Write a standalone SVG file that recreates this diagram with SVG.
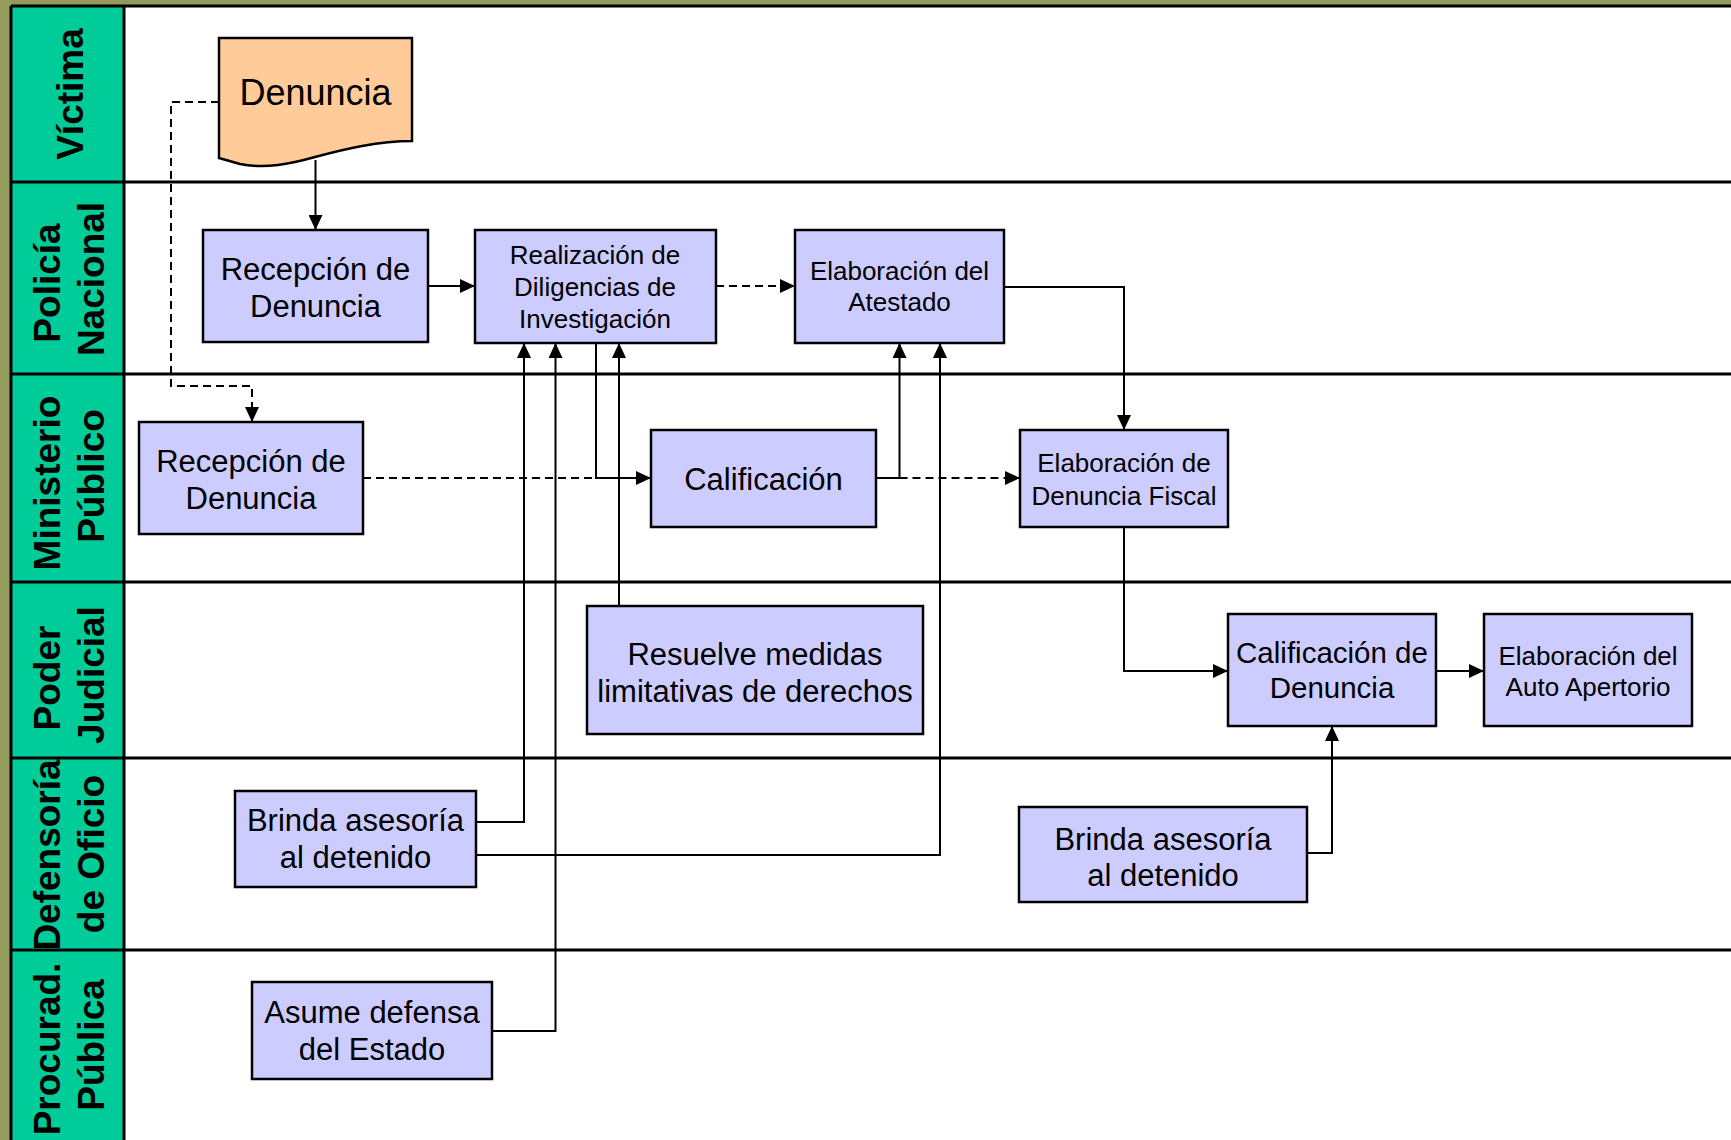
<svg xmlns="http://www.w3.org/2000/svg" width="1731" height="1140" viewBox="0 0 1731 1140">
<defs>
<marker id="arr" markerWidth="15" markerHeight="14" refX="15" refY="7" orient="auto" markerUnits="userSpaceOnUse">
<path d="M0,0 L15,7 L0,14 Z" fill="#000"/>
</marker>
<style>
.lane{font-family:"Liberation Sans",Arial,sans-serif;font-weight:bold;font-size:37px;fill:#000;text-anchor:middle}
.box{fill:#CCCCFF;stroke:#000;stroke-width:2.5}
.t{font-family:"Liberation Sans",Arial,sans-serif;fill:#000;text-anchor:middle}
.f31{font-size:31px}
.f26{font-size:26px}
.f29{font-size:29.5px}
.c{fill:none;stroke:#000;stroke-width:2}
.d{stroke-dasharray:8,5}
.sep{stroke:#000;stroke-width:3}
</style>
</defs>
<rect x="0" y="0" width="1731" height="1140" fill="#979A5D"/>
<g id="pool">
<rect x="11" y="6" width="1730" height="1150" fill="#fff"/>
<rect x="11" y="6" width="113" height="1150" fill="#00CC99"/>
<line class="sep" x1="11" y1="6" x2="1731" y2="6"/>
<line class="sep" x1="11" y1="6" x2="11" y2="1140"/>
<line class="sep" x1="124" y1="6" x2="124" y2="1140"/>
<line class="sep" x1="11" y1="182" x2="1731" y2="182"/>
<line class="sep" x1="11" y1="374" x2="1731" y2="374"/>
<line class="sep" x1="11" y1="582" x2="1731" y2="582"/>
<line class="sep" x1="11" y1="758" x2="1731" y2="758"/>
<line class="sep" x1="11" y1="950" x2="1731" y2="950"/>
</g>
<g id="lane-labels">
<text class="lane" transform="translate(83,94) rotate(-90)">Víctima</text>
<text class="lane" transform="translate(60,283) rotate(-90)">Policía</text>
<text class="lane" transform="translate(104,279) rotate(-90)">Nacional</text>
<text class="lane" transform="translate(60,483) rotate(-90)">Ministerio</text>
<text class="lane" transform="translate(104,476) rotate(-90)">Público</text>
<text class="lane" transform="translate(60,678) rotate(-90)">Poder</text>
<text class="lane" transform="translate(104,675) rotate(-90)">Judicial</text>
<text class="lane" transform="translate(60,855) rotate(-90)">Defensoría</text>
<text class="lane" transform="translate(104,854) rotate(-90)">de Oficio</text>
<text class="lane" transform="translate(60,1049) rotate(-90)">Procurad.</text>
<text class="lane" transform="translate(104,1045) rotate(-90)">Pública</text>
</g>
<g id="connectors">
<path class="c" d="M315.5,160 V230" marker-end="url(#arr)"/>
<path class="c d" d="M219,102 H171 V386 H252 V422" marker-end="url(#arr)"/>
<path class="c" d="M428,286 H475" marker-end="url(#arr)"/>
<path class="c d" d="M716,286 H795" marker-end="url(#arr)"/>
<path class="c" d="M1004,287 H1124 V430" marker-end="url(#arr)"/>
<path class="c d" d="M363,478 H596"/>
<path class="c" d="M596,343 V478 H651" marker-end="url(#arr)"/>
<path class="c" d="M876,478 H899.5 V343" marker-end="url(#arr)"/>
<path class="c d" d="M899.5,478 H1020" marker-end="url(#arr)"/>
<path class="c" d="M476,822 H524 V343" marker-end="url(#arr)"/>
<path class="c" d="M492,1031 H555.5 V343" marker-end="url(#arr)"/>
<path class="c" d="M619,606 V343" marker-end="url(#arr)"/>
<path class="c" d="M476,855 H940 V343" marker-end="url(#arr)"/>
<path class="c" d="M1124,527 V671 H1228" marker-end="url(#arr)"/>
<path class="c" d="M1436,671 H1484" marker-end="url(#arr)"/>
<path class="c" d="M1307,853 H1332 V726" marker-end="url(#arr)"/>
</g>
<g id="n-denuncia">
<path d="M219,38 H412 V141 C378,141 345,149 315,157 C290,164 266,169 240,164 L219,158 Z" fill="#FFCC99" stroke="#000" stroke-width="2.5"/>
<text class="t" x="315.5" y="105" font-size="36">Denuncia</text>
</g>
<g id="n-recepcion-pn">
<rect class="box" x="203" y="230" width="225" height="112"/>
<text class="t f31" x="315.5" y="280">Recepción de</text>
<text class="t f31" x="315.5" y="317">Denuncia</text>
</g>
<g id="n-realizacion">
<rect class="box" x="475" y="230" width="241" height="113"/>
<text class="t f26" x="595" y="264">Realización de</text>
<text class="t f26" x="595" y="296">Diligencias de</text>
<text class="t f26" x="595" y="328">Investigación</text>
</g>
<g id="n-atestado">
<rect class="box" x="795" y="230" width="209" height="113"/>
<text class="t f26" x="899.5" y="280">Elaboración del</text>
<text class="t f26" x="899.5" y="311">Atestado</text>
</g>
<g id="n-recepcion-mp">
<rect class="box" x="139" y="422" width="224" height="112"/>
<text class="t f31" x="251" y="472">Recepción de</text>
<text class="t f31" x="251" y="509">Denuncia</text>
</g>
<g id="n-calificacion">
<rect class="box" x="651" y="430" width="225" height="97"/>
<text class="t f31" x="763.5" y="490">Calificación</text>
</g>
<g id="n-denuncia-fiscal">
<rect class="box" x="1020" y="430" width="208" height="97"/>
<text class="t f26" x="1124" y="472">Elaboración de</text>
<text class="t f26" x="1124" y="505">Denuncia Fiscal</text>
</g>
<g id="n-resuelve">
<rect class="box" x="587" y="606" width="336" height="128"/>
<text class="t f31" x="755" y="665">Resuelve medidas</text>
<text class="t f31" x="755" y="702">limitativas de derechos</text>
</g>
<g id="n-calificacion-denuncia">
<rect class="box" x="1228" y="614" width="208" height="112"/>
<text class="t f29" x="1332" y="663">Calificación de</text>
<text class="t f29" x="1332" y="698">Denuncia</text>
</g>
<g id="n-auto-apertorio">
<rect class="box" x="1484" y="614" width="208" height="112"/>
<text class="t f26" x="1588" y="665">Elaboración del</text>
<text class="t f26" x="1588" y="696">Auto Apertorio</text>
</g>
<g id="n-brinda-1">
<rect class="box" x="235" y="791" width="241" height="96"/>
<text class="t f31" x="355.5" y="831">Brinda asesoría</text>
<text class="t f31" x="355.5" y="868">al detenido</text>
</g>
<g id="n-asume">
<rect class="box" x="252" y="982" width="240" height="97"/>
<text class="t f31" x="372" y="1023">Asume defensa</text>
<text class="t f31" x="372" y="1060">del Estado</text>
</g>
<g id="n-brinda-2">
<rect class="box" x="1019" y="807" width="288" height="95"/>
<text class="t f31" x="1163" y="850">Brinda asesoría</text>
<text class="t f31" x="1163" y="886">al detenido</text>
</g>
</svg>
